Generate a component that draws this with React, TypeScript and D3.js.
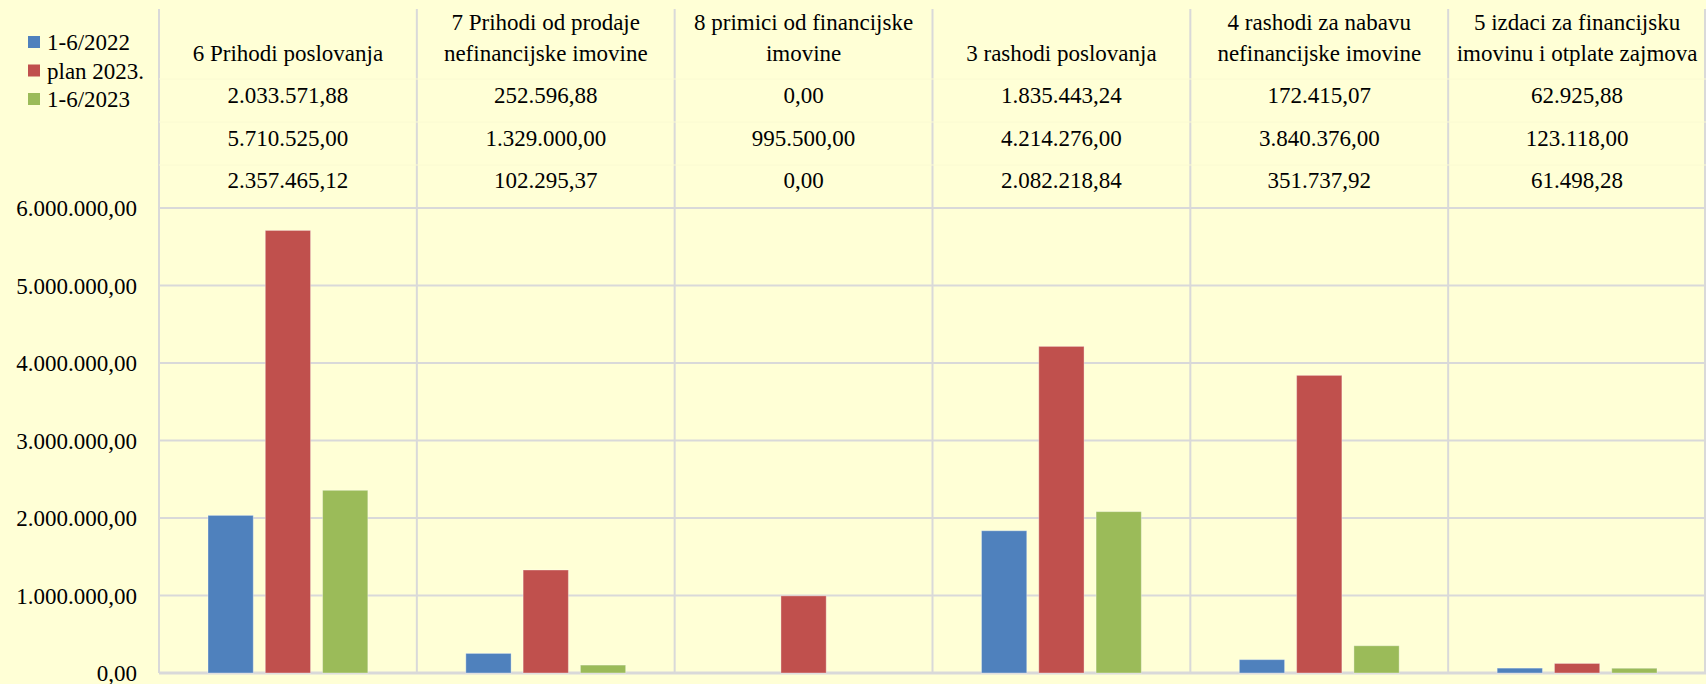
import React from 'react';
import * as d3 from 'd3';

const categories = [
  ['6 Prihodi poslovanja'],
  ['7 Prihodi od prodaje', 'nefinancijske imovine'],
  ['8 primici od financijske', 'imovine'],
  ['3 rashodi poslovanja'],
  ['4 rashodi za nabavu', 'nefinancijske imovine'],
  ['5 izdaci za financijsku', 'imovinu i otplate zajmova'],
];
const seriesNames = ['1-6/2022', 'plan 2023.', '1-6/2023'];
const values2022 = [2033571.88, 252596.88, 0, 1835443.24, 172415.07, 62925.88];
const plan2023 = [5710525.0, 1329000.0, 995500.0, 4214276.0, 3840376.0, 123118.0];
const values2023 = [2357465.12, 102295.37, 0, 2082218.84, 351737.92, 61498.28];
const yTicks = [0, 1000000, 2000000, 3000000, 4000000, 5000000, 6000000];

const colors = ['#4F81BD', '#C0504D', '#9BBB59'];
const series = [values2022, plan2023, values2023];

const W = 1706;
const H = 684;
const plotLeft = 159;
const plotRight = 1706;
const plotTop = 9;
const y0 = 673;
const y6 = 208;
const FS = 23;

const fmt = (v: number) => {
  const s = v.toFixed(2);
  const [i, d] = s.split('.');
  return i.replace(/\B(?=(\d{3})+(?!\d))/g, '.') + ',' + d;
};

export default function App() {
  const x = d3.scaleBand<number>().domain(d3.range(categories.length)).range([plotLeft, plotRight]);
  const xs = d3.scaleBand<number>().domain([0, 1, 2]).range([49, x.bandwidth() - 49]).paddingInner(0.21);
  const y = d3.scaleLinear().domain([0, 6000000]).range([y0, y6]);

  return (
    <svg width={W} height={H} style={{ display: 'block', position: 'absolute', left: 0, top: 0 }}>
      <style>{`text { font-family: 'Liberation Serif', serif; font-size: ${FS}px; fill: #000; }`}</style>
      <rect x={0} y={0} width={W} height={H} fill="#FFFFD6" />
      {/* horizontal grid */}
      {yTicks.map((t) => (
        <line key={t} x1={plotLeft} x2={plotRight} y1={y(t)} y2={y(t)} stroke="#D9D9D9" strokeWidth={t === 0 ? 3 : 2} />
      ))}
      {/* vertical separators */}
      {d3.range(categories.length + 1).map((i) => {
        const xx = i < categories.length ? x(i)! : plotRight - 1;
        return <line key={i} x1={xx} x2={xx} y1={plotTop} y2={y0} stroke="#D9D9D9" strokeWidth={2} />;
      })}
      {/* header row faint lines */}
      {[79, 122, 165].map((yy) => (
        <line key={yy} x1={plotLeft} x2={plotRight} y1={yy} y2={yy} stroke="#FAFAD2" strokeWidth={1} />
      ))}
      {/* y labels */}
      {yTicks.map((t) => (
        <text key={t} x={137} y={y(t)} dy="0.35em" textAnchor="end" fontFamily="Liberation Serif">
          {fmt(t)}
        </text>
      ))}
      {/* bars */}
      {categories.map((_, ci) =>
        series.map((s, si) => {
          const v = s[ci];
          if (v <= 0) return null;
          return (
            <rect
              key={`${ci}-${si}`}
              x={x(ci)! + xs(si)!}
              y={y(v)}
              width={xs.bandwidth()}
              height={y0 - y(v)}
              fill={colors[si]}
              stroke="#ffffff"
              strokeOpacity={0.35}
              strokeWidth={1}
            />
          );
        })
      )}
      {/* header titles and values */}
      {categories.map((lines, ci) => {
        const cx = x(ci)! + x.bandwidth() / 2;
        const titleY = lines.length === 1 ? [53] : [22, 53];
        return (
          <g key={ci} textAnchor="middle">
            {lines.map((l, li) => (
              <text key={li} x={cx} y={titleY[li]} dy="0.35em" fontFamily="Liberation Serif">{l}</text>
            ))}
            {series.map((s, si) => (
              <text key={si} x={cx} y={95 + si * 42.5} dy="0.35em" fontFamily="Liberation Serif">{fmt(s[ci])}</text>
            ))}
          </g>
        );
      })}
      {/* legend */}
      {seriesNames.map((n, i) => (
        <g key={n}>
          <rect x={28} y={42 + i * 28.5 - 6} width={12} height={12} fill={colors[i]} />
          <text x={47} y={42 + i * 28.5} dy="0.35em" fontFamily="Liberation Serif">{n}</text>
        </g>
      ))}
    </svg>
  );
}
